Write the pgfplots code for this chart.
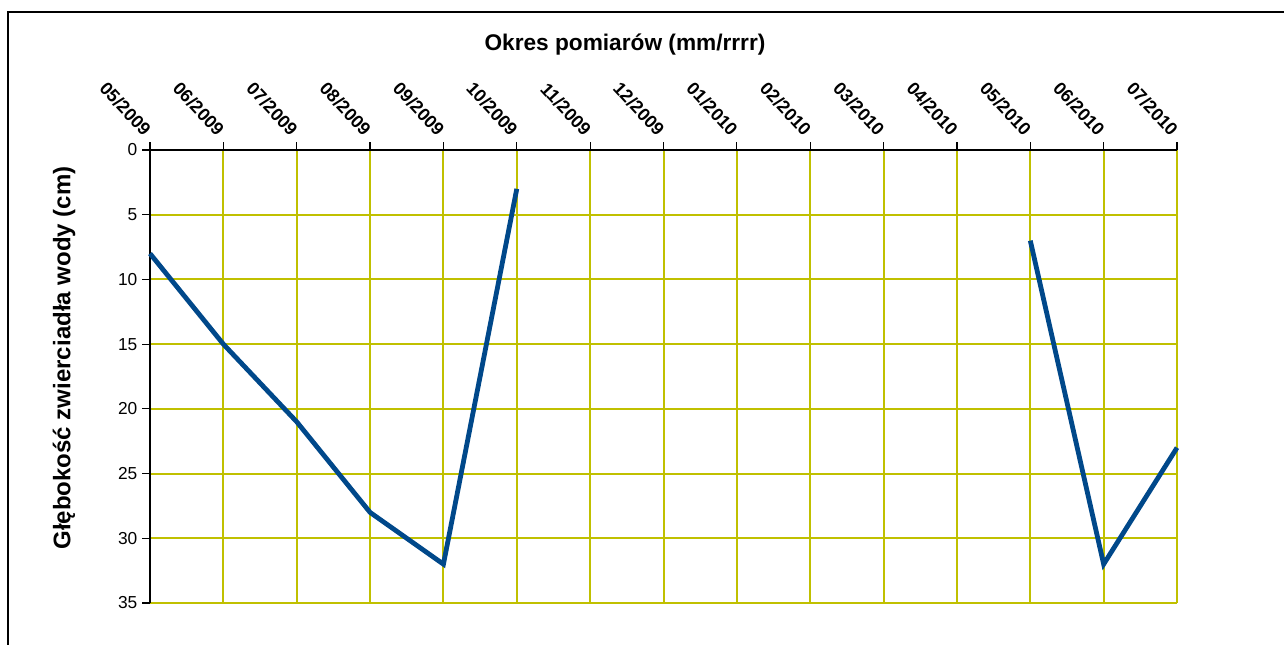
\documentclass[border=0pt]{standalone}
\usepackage{fontspec}
\setmainfont{Liberation Sans}
\usepackage{pgfplots}
\pgfplotsset{compat=1.18}
\definecolor{gridc}{RGB}{192,192,0}
\definecolor{linec}{RGB}{0,72,138}
\begin{document}
\begin{tikzpicture}[x=0.75pt,y=0.75pt]
\useasboundingbox (0,0) rectangle (1284,-645);
\draw[line width=0.9pt] (8,-650) -- (8,-12) -- (1290,-12);
\node[font=\bfseries\fontsize{17}{20}\selectfont] at (625,-45) {Okres pomiarów (mm/rrrr)};
\node[rotate=90,font=\bfseries\fontsize{18}{20}\selectfont] at (64,-358) {Głębokość zwierciadła wody (cm)};
\begin{axis}[
  at={(112.5pt,-112.5pt)}, anchor=north west,
  scale only axis, width=770.25pt, height=339.75pt,
  xmin=0, xmax=14, ymin=0, ymax=35, y dir=reverse,
  axis x line*=top, axis y line*=left,
  axis line style={-, black, line width=0.9pt},
  xtick={0,...,14},
  xticklabels={05/2009,06/2009,07/2009,08/2009,09/2009,10/2009,11/2009,12/2009,01/2010,02/2010,03/2010,04/2010,05/2010,06/2010,07/2010},
  ytick={0,5,...,35},
  tick align=outside, major tick length=6pt,
  tick style={black, line width=0.9pt},
  grid=major, major grid style={gridc, line width=1.5pt},
  x tick label style={font=\bfseries\fontsize{13.5}{15}\selectfont, yshift=6pt, xshift=-1pt, rotate=-47, anchor=east, inner sep=1pt},
  y tick label style={font=\fontsize{13}{15}\selectfont},
  /pgf/number format/assume math mode=true,
  unbounded coords=jump,
  clip=false,
]
\addplot[linec, line width=3.6pt] coordinates {
(0,8) (1,15) (2,21) (3,28) (4,32) (5,3) (6,nan)
(12,7) (13,32) (14,23)
};
\end{axis}
\end{tikzpicture}
\end{document}
